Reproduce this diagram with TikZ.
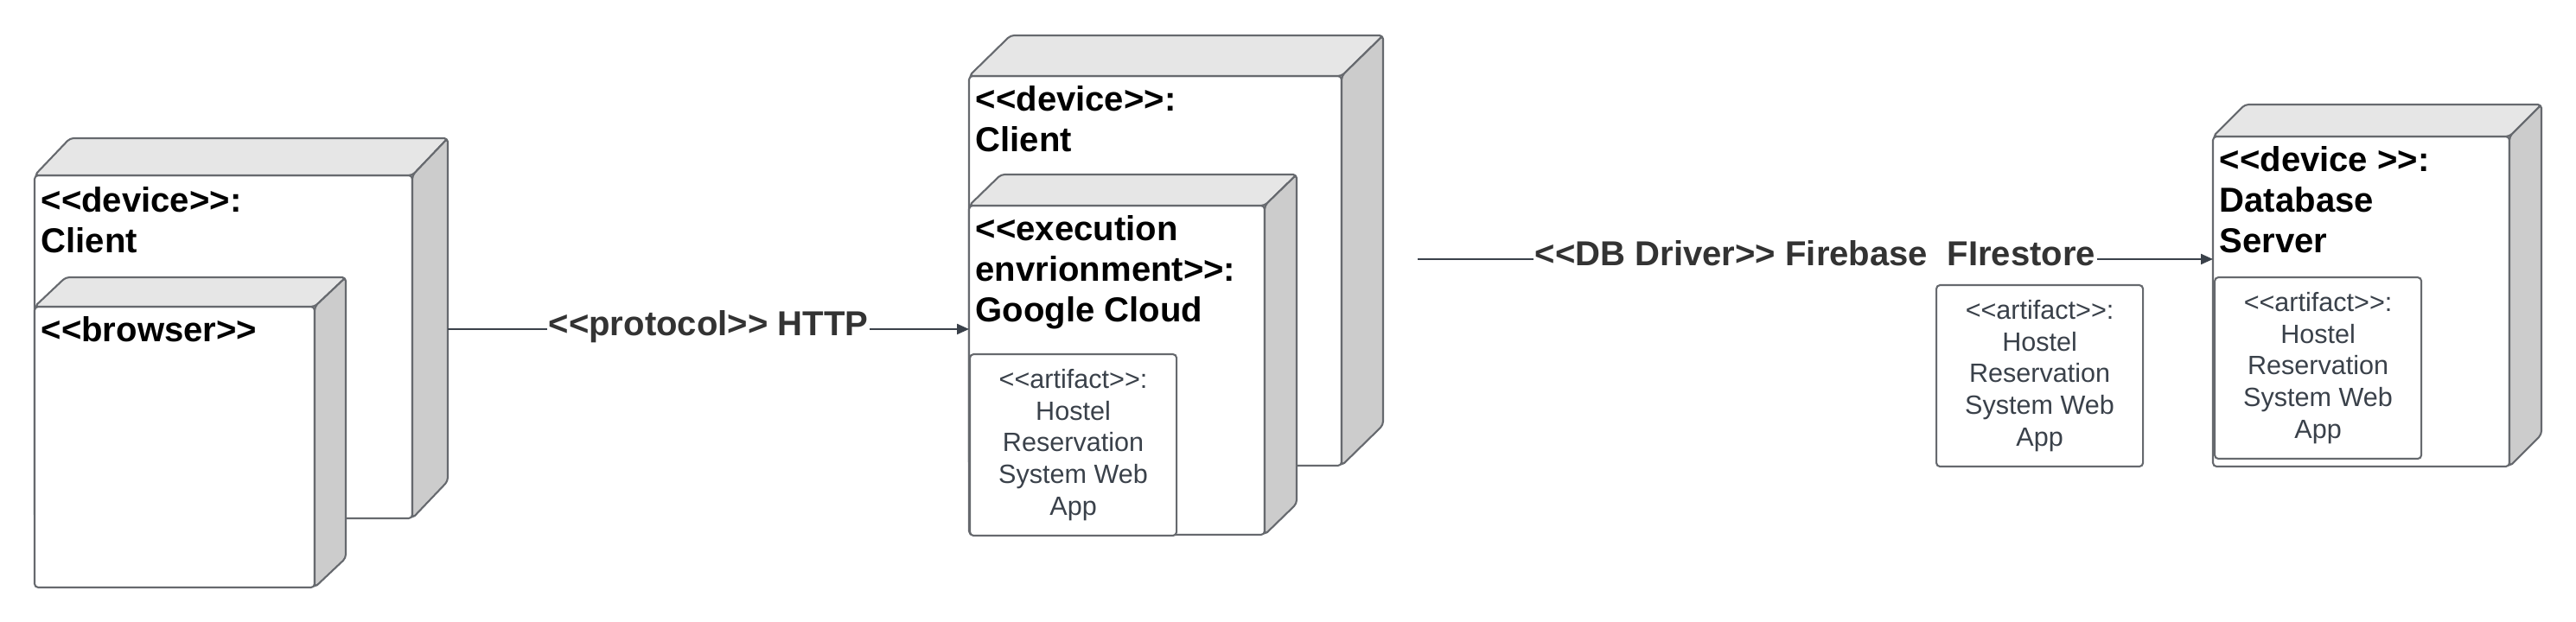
\documentclass[tikz,border=0pt]{standalone}
\usepackage{fontspec}
\newfontfamily\lucidsans{Liberation Sans}
\usetikzlibrary{arrows.meta}
\definecolor{edgegray}{HTML}{66696E}
\definecolor{topgray}{HTML}{E6E6E6}
\definecolor{sidegray}{HTML}{CCCCCC}
\definecolor{linkgray}{HTML}{3A414A}
\definecolor{labelgray}{HTML}{333333}
\begin{document}
\begin{tikzpicture}[
        front/.style = {draw=edgegray, fill=white, line width=0.6pt, rounded corners=1.2pt, inner sep=0pt, outer sep=0pt, anchor=north west},
        topface/.style = {draw=edgegray, fill=topgray, line width=0.6pt, rounded corners=1.2pt},
        sideface/.style = {draw=edgegray, fill=sidegray, line width=0.6pt, rounded corners=1.2pt},
        title/.style = {anchor=north west, inner sep=0pt, align=left, font=\lucidsans\fontsize{11.4pt}{13.4pt}\selectfont\bfseries},
        artifact/.style = {draw=edgegray, fill=white, line width=0.6pt, rounded corners=1.2pt, anchor=north west, inner sep=0pt, align=center, text=linkgray, minimum width=2.39cm, minimum height=2.10cm, font=\lucidsans\fontsize{8.7pt}{10.5pt}\selectfont},
        link/.style = {draw=linkgray, line width=0.6pt},
        linklabel/.style = {fill=white, inner xsep=0.5pt, inner ysep=1pt, text=labelgray, text height=0.22cm, text depth=0.06cm, font=\lucidsans\fontsize{11.4pt}{13.4pt}\selectfont\bfseries}
    ]

            \path[use as bounding box] (0,0) rectangle (29.8,-7.2);

            % Nodes
            \node[front, minimum width=4.37cm, minimum height=3.97cm] (clientA) at (0.40,-2.03) {};
            \draw[topface] (clientA.north west) -- ++(0.41,0.43) -- ++(4.37,0) -- (clientA.north east) -- cycle;
            \draw[sideface] (clientA.north east) -- ++(0.41,0.43) -- ++(0,-3.97) -- (clientA.south east) -- cycle;
            \node[title] (clientAtitle) at (0.47,-2.16) {<<device>>:\\Client};

            \node[front, minimum width=3.24cm, minimum height=3.25cm] (browser) at (0.40,-3.55) {};
            \draw[topface] (browser.north west) -- ++(0.36,0.34) -- ++(3.24,0) -- (browser.north east) -- cycle;
            \draw[sideface] (browser.north east) -- ++(0.36,0.34) -- ++(0,-3.25) -- (browser.south east) -- cycle;
            \node[title] (browsertitle) at (0.47,-3.66) {<<browser>>};

            \node[front, minimum width=4.31cm, minimum height=4.51cm] (clientB) at (11.21,-0.88) {};
            \draw[topface] (clientB.north west) -- ++(0.48,0.47) -- ++(4.31,0) -- (clientB.north east) -- cycle;
            \draw[sideface] (clientB.north east) -- ++(0.48,0.47) -- ++(0,-4.51) -- (clientB.south east) -- cycle;
            \node[title] (clientBtitle) at (11.28,-0.99) {<<device>>:\\Client};

            \node[front, minimum width=3.42cm, minimum height=3.81cm] (googleCloud) at (11.21,-2.38) {};
            \draw[topface] (googleCloud.north west) -- ++(0.37,0.36) -- ++(3.42,0) -- (googleCloud.north east) -- cycle;
            \draw[sideface] (googleCloud.north east) -- ++(0.37,0.36) -- ++(0,-3.81) -- (googleCloud.south east) -- cycle;
            \node[title] (googleCloudtitle) at (11.28,-2.49) {<<execution\\envrionment>>:\\Google Cloud};
            \node[artifact] (artCloud) at (11.21,-4.09) {<<artifact>>:\\Hostel\\Reservation\\System Web\\App};

            \node[artifact] (artFree) at (22.39,-3.29) {<<artifact>>:\\Hostel\\Reservation\\System Web\\App};

            \node[front, minimum width=3.43cm, minimum height=3.82cm] (dbServer) at (25.60,-1.58) {};
            \draw[topface] (dbServer.north west) -- ++(0.37,0.37) -- ++(3.43,0) -- (dbServer.north east) -- cycle;
            \draw[sideface] (dbServer.north east) -- ++(0.37,0.37) -- ++(0,-3.82) -- (dbServer.south east) -- cycle;
            \node[title] (dbServertitle) at (25.67,-1.69) {<<device >>:\\Database\\Server};
            \node[artifact] (artDb) at (25.61,-3.20) {<<artifact>>:\\Hostel\\Reservation\\System Web\\App};

            % Edges
            \coordinate (httpStart) at (5.18,-3.81);
            \coordinate (dbStart) at (16.40,-3.00);
            \draw[link, -{Triangle[length=1.4mm, width=1.2mm]}] (httpStart) to node[linklabel, midway] (httpLabel) {<<protocol>> HTTP} (httpStart -| googleCloud.west);
            \draw[link, -{Triangle[length=1.4mm, width=1.2mm]}] (dbStart) to node[linklabel, midway] (dbLabel) {<<DB Driver>> Firebase\ \ FIrestore} (dbStart -| dbServer.west);
        \end{tikzpicture}
\end{document}
